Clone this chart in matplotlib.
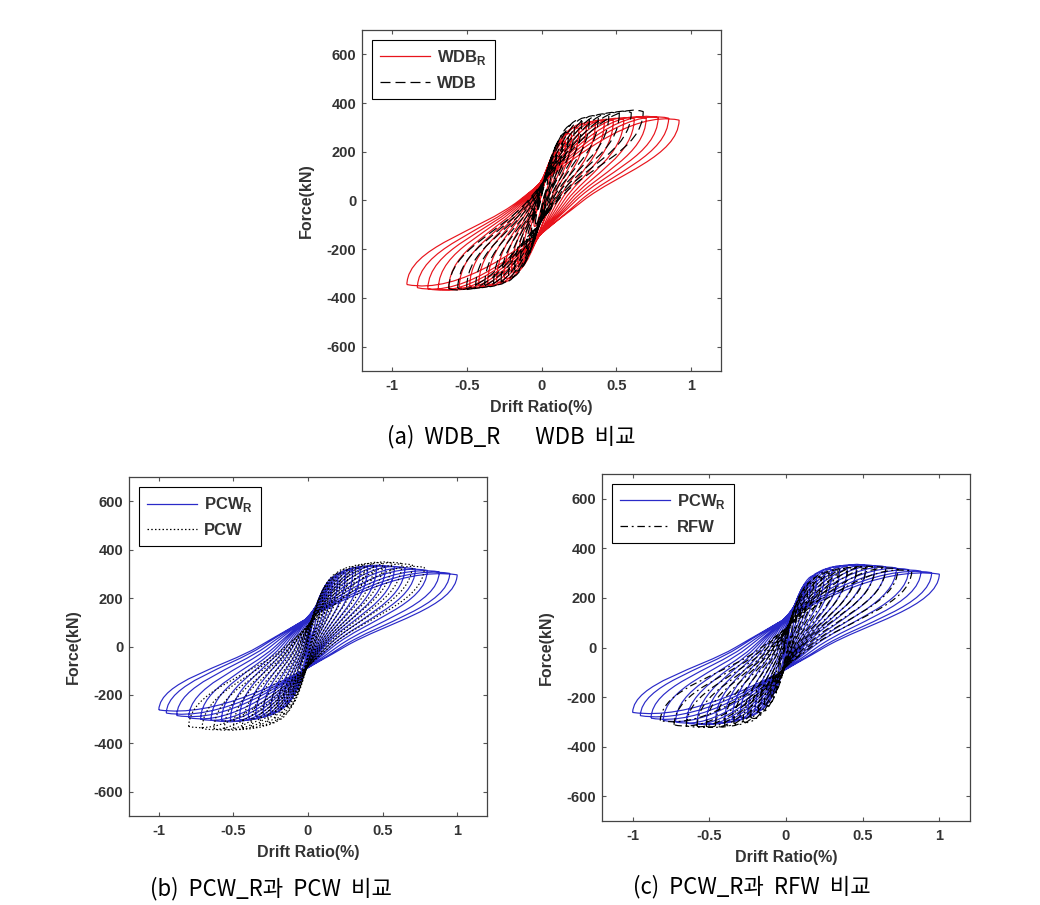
import numpy as np
import matplotlib
matplotlib.use('Agg')
import matplotlib.pyplot as plt
from matplotlib.path import Path
from matplotlib.patches import PathPatch
from matplotlib.lines import Line2D

plt.rcParams['font.family'] = ['Liberation Sans', 'DejaVu Sans']
plt.rcParams['mathtext.fontset'] = 'custom'
plt.rcParams['mathtext.rm'] = 'Liberation Sans'
plt.rcParams['mathtext.bf'] = 'Liberation Sans:bold'

# ---- WDB_R (red, solid) : one entry per load cycle ----
wdbr_pos_drift = [0.05, 0.08, 0.12, 0.16, 0.20, 0.25, 0.30, 0.36, 0.42, 0.48, 0.55, 0.62, 0.70, 0.78, 0.85, 0.92]
wdbr_pos_force = [95, 145, 195, 240, 270, 295, 310, 318, 324, 328, 332, 335, 338, 340, 338, 330]
wdbr_neg_drift = [-0.05, -0.08, -0.12, -0.16, -0.20, -0.25, -0.30, -0.36, -0.42, -0.48, -0.55, -0.62, -0.69, -0.76, -0.83, -0.90]
wdbr_neg_force = [-105, -155, -210, -255, -290, -315, -332, -342, -348, -352, -356, -360, -362, -362, -358, -345]
wdbr_cross_up = [-0.01, -0.01, -0.02, -0.03, -0.04, -0.05, -0.06, -0.07, -0.08, -0.09, -0.10, -0.11, -0.12, -0.13, -0.14, -0.15]
wdbr_cross_down = [0.01, 0.02, 0.03, 0.04, 0.06, 0.07, 0.09, 0.11, 0.13, 0.15, 0.17, 0.19, 0.21, 0.23, 0.26, 0.28]

# ---- WDB (black, dashed) ----
wdb_pos_drift = [0.04, 0.07, 0.10, 0.14, 0.18, 0.22, 0.27, 0.32, 0.38, 0.45, 0.52, 0.60, 0.68]
wdb_pos_force = [85, 140, 185, 235, 275, 305, 325, 335, 343, 350, 356, 361, 365]
wdb_neg_drift = [-0.04, -0.07, -0.10, -0.14, -0.18, -0.22, -0.27, -0.32, -0.38, -0.44, -0.50, -0.56, -0.62]
wdb_neg_force = [-95, -150, -195, -245, -285, -310, -330, -340, -348, -352, -356, -360, -362]
wdb_cross_up = [-0.005, -0.01, -0.015, -0.02, -0.025, -0.03, -0.035, -0.04, -0.05, -0.06, -0.07, -0.08, -0.09]
wdb_cross_down = [0.01, 0.015, 0.02, 0.03, 0.035, 0.04, 0.05, 0.06, 0.07, 0.08, 0.09, 0.10, 0.11]

# ---- PCW_R (blue, solid) ----
pcwr_pos_drift = [0.05, 0.08, 0.12, 0.16, 0.20, 0.25, 0.30, 0.35, 0.40, 0.46, 0.52, 0.58, 0.65, 0.72, 0.80, 0.88, 0.95, 1.00]
pcwr_pos_force = [115, 170, 220, 260, 285, 300, 312, 320, 325, 328, 330, 328, 325, 320, 314, 308, 302, 296]
pcwr_neg_drift = [-0.05, -0.08, -0.12, -0.16, -0.20, -0.25, -0.30, -0.35, -0.40, -0.46, -0.52, -0.58, -0.65, -0.72, -0.80, -0.88, -0.95, -1.00]
pcwr_neg_force = [-95, -148, -192, -225, -250, -268, -280, -288, -295, -300, -304, -306, -304, -300, -294, -285, -275, -262]
pcwr_cross_up = [0.0, -0.01, -0.02, -0.03, -0.045, -0.06, -0.08, -0.10, -0.12, -0.14, -0.16, -0.18, -0.20, -0.22, -0.25, -0.28, -0.31, -0.33]
pcwr_cross_down = [0.0, 0.01, 0.02, 0.03, 0.04, 0.05, 0.06, 0.07, 0.08, 0.09, 0.10, 0.11, 0.13, 0.15, 0.17, 0.20, 0.23, 0.25]

# ---- PCW (black, dotted) ----
pcw_pos_drift = [0.04, 0.07, 0.10, 0.14, 0.18, 0.22, 0.27, 0.32, 0.38, 0.44, 0.50, 0.56, 0.63, 0.70, 0.78]
pcw_pos_force = [95, 150, 200, 245, 275, 298, 315, 325, 332, 338, 342, 344, 342, 336, 326]
pcw_neg_drift = [-0.04, -0.07, -0.10, -0.14, -0.18, -0.22, -0.27, -0.32, -0.38, -0.44, -0.50, -0.56, -0.63, -0.71, -0.80]
pcw_neg_force = [-95, -150, -200, -245, -275, -298, -312, -322, -330, -335, -338, -340, -340, -338, -330]
pcw_cross_up = [-0.005, -0.01, -0.015, -0.02, -0.03, -0.04, -0.05, -0.06, -0.07, -0.08, -0.10, -0.11, -0.12, -0.14, -0.15]
pcw_cross_down = [0.01, 0.015, 0.02, 0.03, 0.035, 0.04, 0.05, 0.06, 0.07, 0.08, 0.09, 0.10, 0.12, 0.13, 0.15]

# ---- RFW (black, dash-dot) ----
rfw_pos_drift = [0.04, 0.07, 0.10, 0.14, 0.18, 0.23, 0.28, 0.34, 0.40, 0.46, 0.52, 0.58, 0.65, 0.73, 0.82]
rfw_pos_force = [90, 142, 190, 232, 260, 282, 298, 308, 314, 318, 321, 323, 321, 316, 308]
rfw_neg_drift = [-0.04, -0.07, -0.10, -0.14, -0.18, -0.23, -0.28, -0.34, -0.40, -0.46, -0.52, -0.58, -0.65, -0.73, -0.82]
rfw_neg_force = [-90, -142, -190, -232, -260, -282, -298, -306, -312, -316, -318, -318, -316, -312, -295]
rfw_cross_up = [-0.005, -0.01, -0.015, -0.02, -0.03, -0.04, -0.05, -0.06, -0.07, -0.08, -0.09, -0.10, -0.12, -0.14, -0.16]
rfw_cross_down = [0.01, 0.015, 0.02, 0.03, 0.035, 0.04, 0.05, 0.06, 0.07, 0.08, 0.09, 0.10, 0.12, 0.14, 0.16]

RED = '#e8141c'
BLUE = '#2a2ac8'
TXT = '#333333'


def hysteresis_path(pos_d, pos_f, neg_d, neg_f, cross_up, cross_down):
    """Closed loop per cycle: neg peak -> zero crossing -> pos peak -> zero crossing -> back."""
    verts, codes = [], []
    for dp, fp, dn, fn, cu, cd in zip(pos_d, pos_f, neg_d, neg_f, cross_up, cross_down):
        s = 1.3 * (fp - fn) / (dp - dn)
        L1, L2 = cu - dn, dp - cu
        L3, L4 = dp - cd, cd - dn
        h1, h2, h3, h4 = 0.35 * L1, 0.35 * L2, 0.35 * L3, 0.35 * L4
        verts += [(dn, fn),
                  (dn + 0.01 * L1, 0.55 * fn), (cu - h1, max(-h1 * s, 0.8 * fn)), (cu, 0),
                  (cu + h2, min(h2 * s, 0.8 * fp)), (dp - 0.3 * L2, 1.12 * fp), (dp, fp),
                  (dp - 0.01 * L3, 0.55 * fp), (cd + h3, min(h3 * s, 0.8 * fp)), (cd, 0),
                  (cd - h4, max(-h4 * s, 0.8 * fn)), (dn + 0.3 * L4, 1.12 * fn), (dn, fn)]
        codes += [Path.MOVETO] + [Path.CURVE4] * 12
    return Path(verts, codes)


def draw_panel(ax, series):
    handles = []
    for data, color, ls, label in series:
        patch = PathPatch(hysteresis_path(*data), facecolor='none', edgecolor=color,
                          linewidth=0.85, linestyle=ls)
        ax.add_patch(patch)
        handles.append(Line2D([], [], color=color, linewidth=0.9, linestyle=ls, label=label))

    ax.set_xlim(-1.2, 1.2)
    ax.set_ylim(-700, 700)
    ax.set_xticks([-1, -0.5, 0, 0.5, 1])
    ax.set_xticklabels(['-1', '-0.5', '0', '0.5', '1'])
    ax.set_yticks([-600, -400, -200, 0, 200, 400, 600])
    ax.set_yticklabels(['-600', '-400', '-200', '0', '200', '400', '600'])
    ax.tick_params(direction='in', top=True, right=True, length=3, width=0.8,
                   color='#555555', labelcolor=TXT, labelsize=10.5)
    ax.tick_params(axis='x', pad=5.5)
    ax.tick_params(axis='y', pad=4)
    for lab in ax.get_xticklabels() + ax.get_yticklabels():
        lab.set_fontweight('bold')
    for sp in ax.spines.values():
        sp.set_color('#444444')
        sp.set_linewidth(0.9)
    ax.set_xlabel('Drift Ratio(%)', fontsize=11.5, fontweight='bold', color=TXT, labelpad=5)
    ax.set_ylabel('Force(kN)', fontsize=11.5, fontweight='bold', color=TXT, labelpad=9)

    leg = ax.legend(handles=handles, loc='upper left', fontsize=12, handlelength=3.0,
                    handletextpad=0.4, labelspacing=0.5, borderpad=0.5, borderaxespad=0.6,
                    fancybox=False, framealpha=1, edgecolor='black')
    leg.get_frame().set_linewidth(0.8)
    for t in leg.get_texts():
        t.set_fontweight('bold')
        t.set_color(TXT)


fig = plt.figure(figsize=(10.4, 9.05), dpi=100)

ax_a = fig.add_axes([362 / 1040, 1 - 371 / 905, 359 / 1040, 341 / 905])
ax_b = fig.add_axes([129 / 1040, 1 - 816 / 905, 358 / 1040, 339 / 905])
ax_c = fig.add_axes([602 / 1040, 1 - 821 / 905, 368 / 1040, 347 / 905])

wdbr = (wdbr_pos_drift, wdbr_pos_force, wdbr_neg_drift, wdbr_neg_force, wdbr_cross_up, wdbr_cross_down)
wdb = (wdb_pos_drift, wdb_pos_force, wdb_neg_drift, wdb_neg_force, wdb_cross_up, wdb_cross_down)
pcwr = (pcwr_pos_drift, pcwr_pos_force, pcwr_neg_drift, pcwr_neg_force, pcwr_cross_up, pcwr_cross_down)
pcw = (pcw_pos_drift, pcw_pos_force, pcw_neg_drift, pcw_neg_force, pcw_cross_up, pcw_cross_down)
rfw = (rfw_pos_drift, rfw_pos_force, rfw_neg_drift, rfw_neg_force, rfw_cross_up, rfw_cross_down)

draw_panel(ax_a, [(wdbr, RED, '-', r'WDB$_\mathbf{R}$'),
                  (wdb, 'black', (0, (8, 4)), 'WDB')])
draw_panel(ax_b, [(pcwr, BLUE, '-', r'PCW$_\mathbf{R}$'),
                  (pcw, 'black', (0, (1.2, 1.8)), 'PCW')])
draw_panel(ax_c, [(pcwr, BLUE, '-', r'PCW$_\mathbf{R}$'),
                  (rfw, 'black', (0, (6, 3, 1.5, 3)), 'RFW')])

cap = dict(fontsize=16, family=['Noto Sans CJK KR', 'DejaVu Sans'], ha='center', va='center')
fig.text(511 / 1040, 1 - 437 / 905, '(a)  WDB_R       WDB  비교', **cap)
fig.text(271 / 1040, 1 - 889 / 905, '(b)  PCW_R과  PCW  비교', **cap)
fig.text(752 / 1040, 1 - 887 / 905, '(c)  PCW_R과  RFW  비교', **cap)

fig.savefig('out.png', dpi=100)
